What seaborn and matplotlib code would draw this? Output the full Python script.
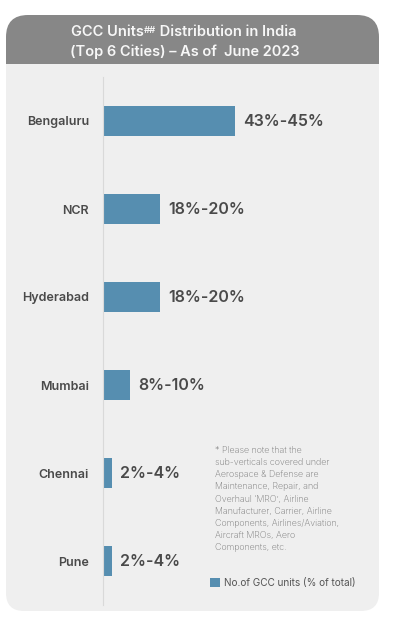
import numpy as np
import pandas as pd
import matplotlib
matplotlib.use("Agg")
import matplotlib.pyplot as plt
import seaborn as sns
from matplotlib.patches import FancyBboxPatch, Rectangle

# DATA
cities = ["Bengaluru", "NCR", "Hyderabad", "Mumbai", "Chennai", "Pune"]
share_mid = [44, 19, 19, 9, 3, 3]
share_labels = ["43%-45%", "18%-20%", "18%-20%", "8%-10%", "2%-4%", "2%-4%"]
series_name = "No.of GCC units (% of total)"

title_line1 = ["GCC Units", "##", " Distribution in India"]
title_line2 = "(Top 6 Cities) \u2013 As of  June 2023"
footnote = ("* Please note that the\nsub-verticals covered under\n"
            "Aerospace & Defense are\nMaintenance, Repair, and\n"
            "Overhaul \u2018MRO\u2019, Airline\nManufacturer, Carrier, Airline\n"
            "Components, Airlines/Aviation,\nAircraft MROs, Aero\n"
            "Components, etc.")

# STYLE
W, H = 393, 618
BAR = "#568eb0"
HEADER = "#878787"
BODY = "#efefef"
TXT = "#4a4a4a"

sns.set_style("white")
plt.rcParams["font.family"] = ["Inter", "DejaVu Sans"]

fig = plt.figure(figsize=(W / 100, H / 100), dpi=100)
fig.patch.set_facecolor("white")


def fx(x):
    return x / W


def fy(y):
    return 1 - y / H


def box(x0, y0, x1, y1, color, r=None):
    # pixel coords (top-down) -> inches
    xy = (x0 / 100, (H - y1) / 100)
    w, h = (x1 - x0) / 100, (y1 - y0) / 100
    if r:
        p = FancyBboxPatch(xy, w, h, boxstyle=f"round,pad=0,rounding_size={r / 100}",
                           transform=fig.dpi_scale_trans, fc=color, ec="none", zorder=-10)
    else:
        p = Rectangle(xy, w, h, transform=fig.dpi_scale_trans, fc=color, ec="none", zorder=-9)
    fig.patches.append(p)


# card background
box(6, 15, 379, 100, HEADER, r=22)
box(6, 64, 379, 611, BODY, r=18)
box(6, 64, 379, 100, BODY)

# BARS
df = pd.DataFrame({"city": cities, "share": share_mid, "series": series_name})

ax = fig.add_axes([fx(103), fy(605), fx(378 - 103), (605 - 77) / H])
ax.patch.set_visible(False)
sns.barplot(data=df, x="share", y="city", hue="series", palette=[BAR],
            width=0.35, dodge=False, ax=ax, saturation=1, linewidth=0)

ax.set_xlim(0, (378 - 103) / 3)
ax.set_ylim(5.5, -0.5)
ax.set_xlabel("")
ax.set_ylabel("")
ax.set_xticks([])
ax.tick_params(axis="y", length=0, pad=10)
for lab in ax.get_yticklabels():
    lab.set_fontsize(9)
    lab.set_fontweight("semibold")
    lab.set_color(TXT)

for s in ["top", "right", "bottom"]:
    ax.spines[s].set_visible(False)
ax.spines["left"].set_color("#d9d9d9")
ax.spines["left"].set_linewidth(0.8)

ax.bar_label(ax.containers[0], labels=share_labels, padding=6,
             fontsize=11.5, fontweight="semibold", color=TXT)

# legend
ax.legend(loc="center left", bbox_to_anchor=(fx(210), fy(583)),
          bbox_transform=fig.transFigure, frameon=False,
          handlelength=0.95, handleheight=0.95, handletextpad=0.4,
          borderpad=0, borderaxespad=0, prop={"size": 7.2}, labelcolor="#555555")

# TITLE
t1 = fig.text(fx(71), fy(32), title_line1[0], fontsize=10.5, fontweight="semibold",
              color="#f7f7f7", va="center", ha="left")
t2 = ax.annotate(title_line1[1], xy=(1, 0.95), xycoords=t1, fontsize=6.8,
                 fontweight="semibold", color="#f7f7f7", va="top", ha="left",
                 annotation_clip=False)
ax.annotate(title_line1[2], xy=(1, 0), xycoords=(t2, t1), fontsize=10.5,
            fontweight="semibold", color="#f7f7f7", va="bottom", ha="left",
            annotation_clip=False)
fig.text(fx(185), fy(52), title_line2, fontsize=10.5, fontweight="semibold",
         color="#f7f7f7", va="center", ha="center")

# FOOTNOTE
fig.text(fx(215), fy(446), footnote, fontsize=6.4, color="#777777",
         va="top", ha="left", linespacing=1.45, fontweight="light")

fig.savefig("out.png", dpi=100)
